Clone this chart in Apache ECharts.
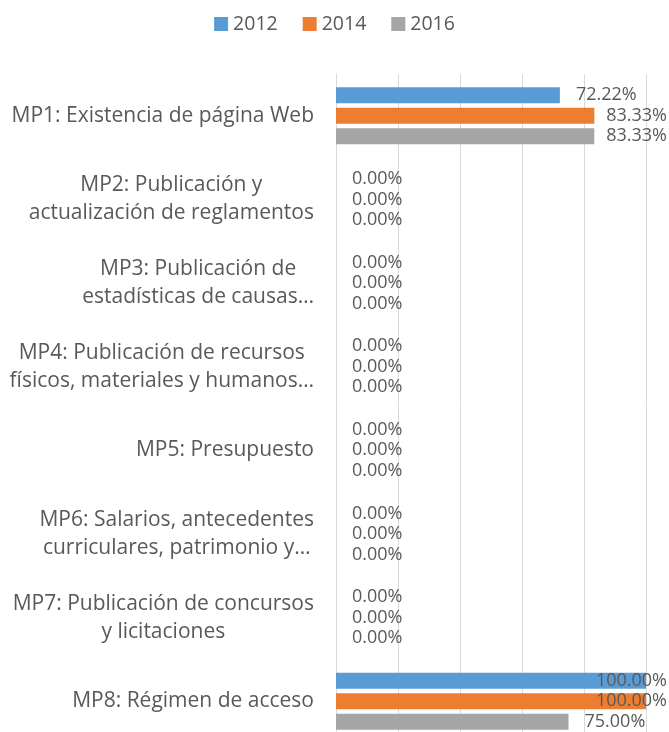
<!DOCTYPE html>
<html>
<head>
<meta charset="utf-8">
<script src="https://cdn.jsdelivr.net/npm/echarts@6/dist/echarts.min.js"></script>
<style>
  html, body { margin: 0; padding: 0; background: #fff; }
  #chart { width: 669px; height: 732px; }
</style>
</head>
<body>
<div id="chart"></div>
<script>
var categories = [
    'MP1: Existencia de página Web',
    'MP2: Publicación y\nactualización de reglamentos',
    'MP3: Publicación de\nestadísticas de causas…',
    'MP4: Publicación de recursos\nfísicos, materiales y humanos…',
    'MP5: Presupuesto',
    'MP6: Salarios, antecedentes\ncurriculares, patrimonio y…',
    'MP7: Publicación de concursos\ny licitaciones',
    'MP8: Régimen de acceso'
];
var years = ['2012', '2014', '2016'];
var v2012 = [72.22, 0, 0, 0, 0, 0, 0, 100];
var v2014 = [83.33, 0, 0, 0, 0, 0, 0, 100];
var v2016 = [83.33, 0, 0, 0, 0, 0, 0, 75];
var xTicks = [0, 20, 40, 60, 80, 100];

var color = ['#5b9bd5', '#ed7d31', '#a5a5a5'];
var font = '"Open Sans", "Noto Sans", sans-serif';
var textColor = '#595959';

var chart = echarts.init(document.getElementById('chart'));

// labels that would run off the right edge get pulled back in, like the original
function keepInside(params) {
    var r = params.labelRect;
    if (r.x + r.width > 667) {
        return { x: 667 - r.width, y: r.y + r.height / 2, align: 'left', verticalAlign: 'middle' };
    }
    return {};
}

var series = [v2012, v2014, v2016].map(function (vals, i) {
    return {
        name: years[i],
        type: 'bar',
        data: vals,
        barWidth: 16,
        barGap: '28%',
        itemStyle: { color: color[i] },
        label: {
            show: true,
            position: 'right',
            distance: 16,
            fontFamily: font,
            fontSize: 18,
            color: textColor,
            formatter: function (p) { return p.value.toFixed(2) + '%'; }
        },
        labelLayout: keepInside
    };
});

chart.setOption({
    animation: false,
    textStyle: { fontFamily: font },
    legend: {
        top: 9,
        left: 'center',
        itemWidth: 14,
        itemHeight: 14,
        itemGap: 25,
        icon: 'rect',
        textStyle: { fontSize: 19.5, color: textColor, fontFamily: font },
        data: years
    },
    grid: {
        left: 336,
        right: 23,
        top: 74,
        height: 669,
        containLabel: false,
        outerBoundsMode: 'none'
    },
    xAxis: {
        type: 'value',
        min: xTicks[0],
        max: xTicks[xTicks.length - 1],
        interval: 20,
        axisLabel: { show: false },
        axisLine: { show: false },
        axisTick: { show: false },
        splitLine: { lineStyle: { color: '#d9d9d9', width: 1 } }
    },
    yAxis: {
        type: 'category',
        inverse: true,
        data: categories,
        axisLine: { lineStyle: { color: '#d9d9d9' } },
        axisTick: { show: false },
        axisLabel: {
            margin: 22,
            align: 'right',
            formatter: function (v) {
                return v.split('\n').map(function (l) { return '{c|' + l + '}'; }).join('\n');
            },
            rich: {
                c: { align: 'center', fontSize: 21, lineHeight: 28, color: textColor, fontFamily: font }
            }
        }
    },
    series: series
});
</script>
</body>
</html>
